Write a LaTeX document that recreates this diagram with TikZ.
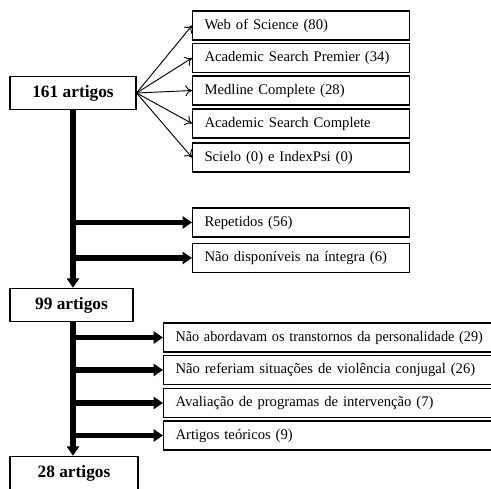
\documentclass[tikz,border=0pt]{standalone}
\usepackage{fontspec}
\setmainfont{Liberation Serif}
\usetikzlibrary{arrows.meta}

\begin{document}
\begin{tikzpicture}[x=0.75pt, y=-0.75pt,
    base/.style={draw, line width=0.8pt, font=\fontsize{11}{13}\selectfont, align=left, inner xsep=9pt, anchor=west},
    fonte/.style={base, text width=145pt, minimum height=21.75pt},
    exclusao/.style={base, text width=236pt, minimum height=21.75pt},
    total/.style={draw, line width=0.8pt, font=\fontsize{13}{15}\selectfont\bfseries, minimum height=25pt},
    fino/.style={-{To[length=5pt,width=8pt]}, line width=0.7pt},
    grosso/.style={-{Triangle[length=7pt,width=9pt]}, line width=4pt}]
    \useasboundingbox (0,0) rectangle (491,488);
    \clip (0,0) rectangle (491,488);

    % Totais
    \node[total, minimum width=94.5pt] (t161) at (73,93) {161 artigos};
    \node[total, minimum width=92.25pt] (t99) at (71.5,305) {99 artigos};
    \node[total, minimum width=96pt] (t28) at (74,473) {28 artigos};

    % Bases de dados
    \node[fonte] (wos) at (192,25.5) {Web of Science (80)};
    \node[fonte] (asp) at (192,58) {Academic Search Premier (34)};
    \node[fonte] (med) at (192,90.5) {Medline Complete (28)};
    \node[fonte] (asc) at (192,123.5) {Academic Search Complete};
    \node[fonte] (sci) at (192,157.5) {Scielo (0) e IndexPsi (0)};

    % Primeira exclusao
    \node[fonte] (rep) at (192,222.5) {Repetidos (56)};
    \node[fonte] (ndi) at (192,258) {Não disponíveis na íntegra (6)};

    % Segunda exclusao
    \node[exclusao] (pers) at (163,337.5) {\scalebox{0.97}[1]{Não abordavam os transtornos da personalidade (29)}};
    \node[exclusao] (viol) at (163,370) {Não referiam situações de violência conjugal (26)};
    \node[exclusao] (aval) at (163,403) {Avaliação de programas de intervenção (7)};
    \node[exclusao] (teor) at (163,435.5) {Artigos teóricos (9)};

    % Ligacoes
    \foreach \b in {wos,asp,med,asc,sci}
        \draw[fino] (t161.east) -- (\b.west);
    \draw[grosso] (t161.south) -- (t161.south |- t99.north);
    \foreach \b in {rep,ndi}
        \draw[grosso] (t161.south |- \b.west) -- (\b.west);
    \draw[grosso] (t161.south |- t99.south) -- (t161.south |- t28.north);
    \foreach \b in {pers,viol,aval,teor}
        \draw[grosso] (t161.south |- \b.west) -- (\b.west);
\end{tikzpicture}
\end{document}
